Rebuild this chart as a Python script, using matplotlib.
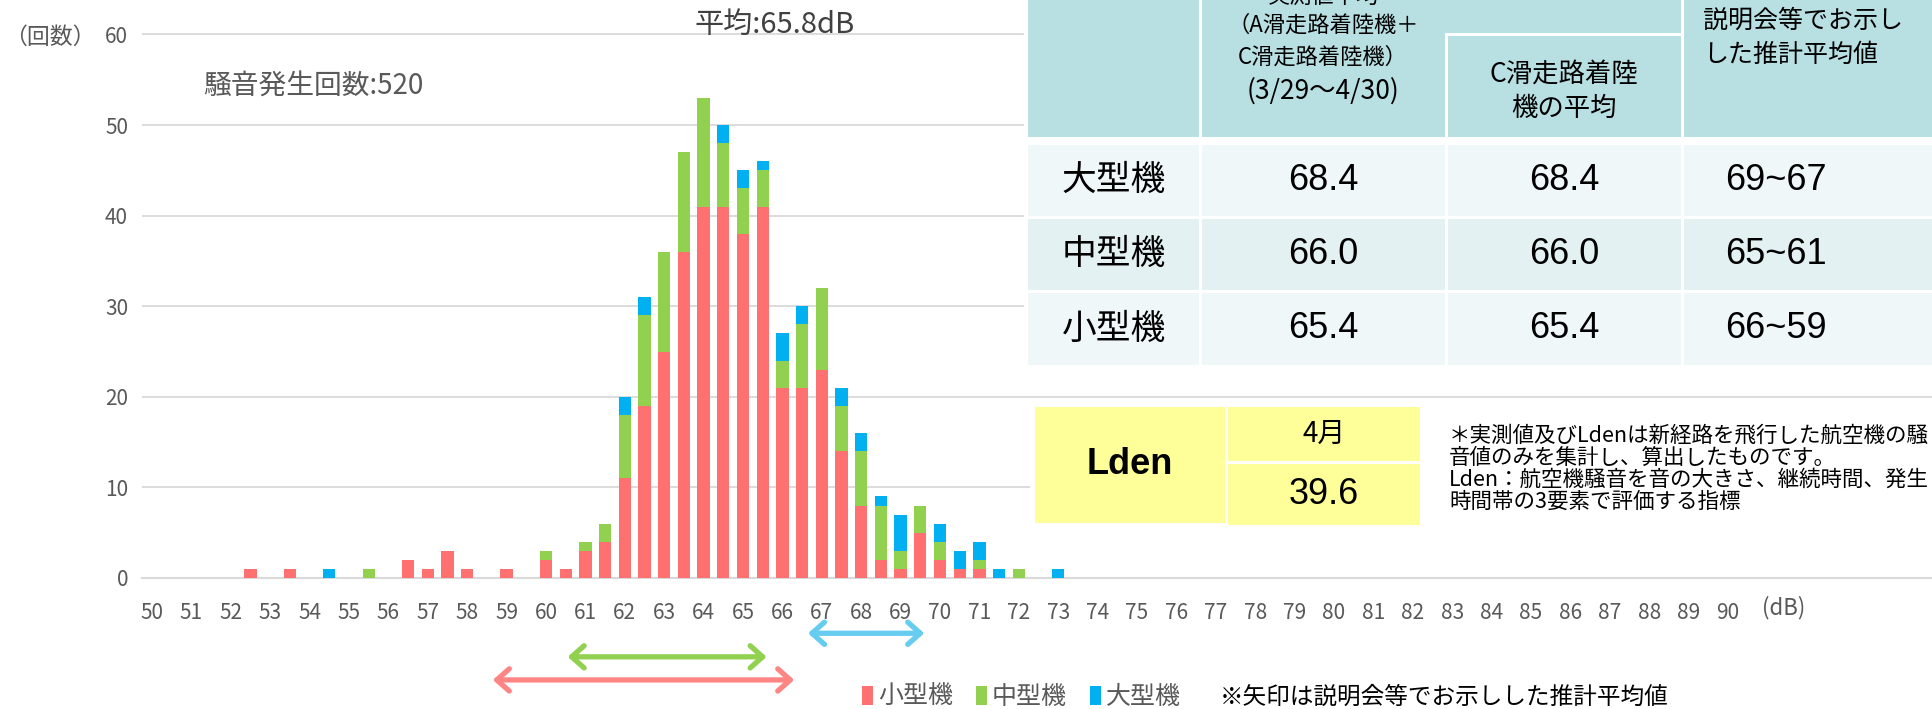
import matplotlib
matplotlib.use('Agg')
import matplotlib.pyplot as plt
from matplotlib.patches import Rectangle
import numpy as np

plt.rcParams['font.family'] = ['Noto Sans CJK JP', 'DejaVu Sans']

# 0.5 dB bins and counts per aircraft class
bins = [52.5, 53.0, 53.5, 54.0, 54.5, 55.0, 55.5, 56.0, 56.5, 57.0, 57.5, 58.0, 58.5, 59.0,
        59.5, 60.0, 60.5, 61.0, 61.5, 62.0, 62.5, 63.0, 63.5, 64.0, 64.5, 65.0, 65.5, 66.0,
        66.5, 67.0, 67.5, 68.0, 68.5, 69.0, 69.5, 70.0, 70.5, 71.0, 71.5, 72.0, 72.5, 73.0]
small = [1, 0, 1, 0, 0, 0, 0, 0, 2, 1, 3, 1, 0, 1, 0, 2, 1, 3, 4, 11, 19, 25, 36, 41, 41, 38, 41,
         21, 21, 23, 14, 8, 2, 1, 5, 2, 1, 1, 0, 0, 0, 0]
medium = [0, 0, 0, 0, 0, 0, 1, 0, 0, 0, 0, 0, 0, 0, 0, 1, 0, 1, 2, 7, 10, 11, 11, 12, 7, 5, 4,
          3, 7, 9, 5, 6, 6, 2, 3, 2, 0, 1, 0, 1, 0, 0]
large = [0, 0, 0, 0, 1, 0, 0, 0, 0, 0, 0, 0, 0, 0, 0, 0, 0, 0, 0, 2, 2, 0, 0, 0, 2, 2, 1,
         3, 2, 0, 2, 2, 1, 4, 0, 2, 2, 2, 1, 0, 0, 1]
series_names = ['小型機', '中型機', '大型機']
series_colors = ['#FF7171', '#92D050', '#00B0F0']
xtick_labels = list(range(50, 91))

# estimated ranges shown as arrows (dB)
arrow_from = [66.65, 60.55, 58.65]
arrow_to = [69.6, 65.6, 66.3]
arrow_colors = ['#66CCF0', '#92D050', '#FF8585']

noise_count = 520
mean_db = 65.8

table_rows = ['大型機', '中型機', '小型機']
measured_avg = ['68.4', '66.0', '65.4']
c_runway_avg = ['68.4', '66.0', '65.4']
estimated = ['69~67', '65~61', '66~59']
lden_month = '4月'
lden_value = '39.6'

W, H = 1933, 709
fig = plt.figure(figsize=(W / 100, H / 100), dpi=100)

# main chart, axes placed in pixel units of the picture
ax = fig.add_axes([142 / W, 1 - 578 / H, 1 - 142 / W, 578 / H])
bottom = np.zeros(len(bins))
bars = []
for vals, name, col in zip([small, medium, large], series_names, series_colors):
    b = ax.bar(bins, vals, width=0.31, bottom=bottom, color=col, label=name, zorder=3)
    bottom += np.array(vals)
    bars.append(b)

ax.set_xlim(50 - 10 / 39.4, 50 + (W - 152) / 39.4)
ax.set_ylim(0, 578 / 9.06)
ax.set_yticks(range(0, 61, 10))
ax.set_xticks(xtick_labels)
ax.grid(axis='y', color='#D9D9D9', lw=1.3, zorder=0)
ax.axhline(0, color='#D9D9D9', lw=1.5, clip_on=False, zorder=1)
for s in ax.spines.values():
    s.set_visible(False)
ax.tick_params(length=0, labelsize=15, colors='#595959')
ax.tick_params(axis='x', pad=17)
ax.tick_params(axis='y', pad=10)

levels = [-6.1, -8.7, -11.25]
for x0, x1, c, y in zip(arrow_from, arrow_to, arrow_colors, levels):
    ax.annotate('', xy=(x1, y), xytext=(x0, y), annotation_clip=False,
                arrowprops=dict(arrowstyle='<->,head_length=0.45,head_width=0.4',
                                color=c, lw=3.8, shrinkA=0, shrinkB=0, mutation_scale=20))

fig.legend(handles=bars, labels=series_names, loc='center left',
           bbox_to_anchor=(862 / W, 1 - 697 / H), ncol=3, frameon=False, fontsize=18,
           handlelength=0.45, handleheight=0.8, handletextpad=0.2, columnspacing=0.9,
           borderpad=0, borderaxespad=0, labelcolor='#595959')

# overlay in pixel coordinates for texts, table and Lden box
ov = fig.add_axes([0, 0, 1, 1], zorder=5)
ov.set_xlim(0, W)
ov.set_ylim(H, 0)
ov.axis('off')
ov.patch.set_alpha(0)

ov.text(4, 37, '（回数）', fontsize=16.5, color='#595959', va='center')
ov.text(203, 86, f'騒音発生回数:{noise_count}', fontsize=20, color='#595959', va='center')
ov.text(695, 25, f'平均:{mean_db}dB', fontsize=21, color='#404040', va='center')
ov.text(1762, 608, '(dB)', fontsize=16, color='#595959', va='center')
ov.text(1220, 697, '※矢印は説明会等でお示しした推計平均値', fontsize=17, color='black', va='center')

head_c = '#B8DFE2'
row_c = ['#EFF7F9', '#E3F1F3', '#EFF7F9']

def box(x0, y0, x1, y1, c):
    ov.add_patch(Rectangle((x0, y0), x1 - x0, y1 - y0, facecolor=c, edgecolor='none'))

box(1024, 0, W, 369, 'white')
box(1028, 0, 1199, 137, head_c)
box(1202, 0, 1681, 33, head_c)
box(1202, 0, 1445, 137, head_c)
box(1448, 36, 1681, 137, head_c)
box(1684, 0, W, 137, head_c)

cols = [(1028, 1199), (1202, 1445), (1448, 1681), (1684, W)]
rows = [(145, 216), (219, 290), (293, 365)]
for (y0, y1), c in zip(rows, row_c):
    for x0, x1 in cols:
        box(x0, y0, x1, y1, c)

ov.text(1323, -4, '実測値平均', fontsize=16, ha='center', va='center')
ov.text(1323, 25, '（A滑走路着陸機＋', fontsize=16, ha='center', va='center')
ov.text(1323, 57, 'C滑走路着陸機）', fontsize=16, ha='center', va='center')
ov.text(1323, 91, '(3/29～4/30)', fontsize=19, ha='center', va='center')
ov.text(1564, 74, 'C滑走路着陸', fontsize=19, ha='center', va='center')
ov.text(1564, 108, '機の平均', fontsize=19, ha='center', va='center')
ov.text(1703, 21, '説明会等でお示し', fontsize=18, ha='left', va='center')
ov.text(1703, 55, 'した推計平均値', fontsize=18, ha='left', va='center')

num_font = ['Liberation Sans', 'DejaVu Sans']
for (y0, y1), name, a, b, e in zip(rows, table_rows, measured_avg, c_runway_avg, estimated):
    yc = (y0 + y1) / 2
    ov.text(1114, yc, name, fontsize=25, ha='center', va='center')
    ov.text(1323, yc, a, fontsize=26, ha='center', va='center', family=num_font)
    ov.text(1564, yc, b, fontsize=26, ha='center', va='center', family=num_font)
    ov.text(1776, yc, e, fontsize=26, ha='center', va='center', family=num_font)

# Lden box and note
box(1030, 401, W, 532, 'white')
yel = '#FFFF99'
box(1035, 407, 1225, 523, yel)
box(1228, 407, 1420, 461, yel)
box(1228, 464, 1420, 525, yel)
ov.text(1130, 465, 'Lden', fontsize=26, fontweight='bold', ha='center', va='center',
        family=num_font)
ov.text(1324, 434, lden_month, fontsize=20, ha='center', va='center')
ov.text(1324, 495, lden_value, fontsize=26, ha='center', va='center', family=num_font)

note = ['＊実測値及びLdenは新経路を飛行した航空機の騒',
        '音値のみを集計し、算出したものです。',
        'Lden：航空機騒音を音の大きさ、継続時間、発生',
        '時間帯の3要素で評価する指標']
for i, line in enumerate(note):
    ov.text(1449, 436 + i * 22, line, fontsize=15.5, ha='left', va='center')

fig.savefig('out.png', dpi=100)
